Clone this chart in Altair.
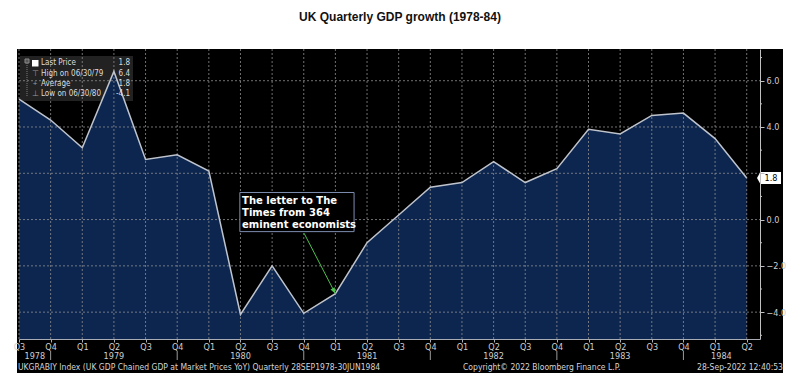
import altair as alt
import pandas as pd

# ---------------- data ----------------
quarter_labels = ["Q3", "Q4", "Q1", "Q2", "Q3", "Q4", "Q1", "Q2", "Q3", "Q4", "Q1", "Q2",
                  "Q3", "Q4", "Q1", "Q2", "Q3", "Q4", "Q1", "Q2", "Q3", "Q4", "Q1", "Q2"]
gdp_growth = [5.2, 4.3, 3.1, 6.4, 2.6, 2.8, 2.1, -4.1, -2.0, -4.05, -3.2, -1.0,
              0.2, 1.4, 1.6, 2.5, 1.6, 2.2, 3.9, 3.7, 4.5, 4.6, 3.5, 1.8]
year_labels = ["1978", "1979", "1980", "1981", "1982", "1983", "1984"]
year_anchor = [0.5, 3, 7, 11, 15, 19, 22.2]   # quarter index under which each year is written
y_major = [-4, -2, 0, 2, 4, 6]
y_minor = [-5, -3, -1, 1, 3, 5, 7]
legend_markers = ["", "\u22a4", "+", "\u22a5"]
legend_labels = ["Last Price", "High on 06/30/79", "Average", "Low on 06/30/80"]
legend_values = ["1.8", "6.4", "1.8", "-4.1"]
note_lines = ["The letter to The", "Times from 364", "eminent economists"]
note_target = 10          # Q1 1981
title_text = "UK Quarterly GDP growth (1978-84)"
footer_left = "UKGRABIY Index (UK GDP Chained GDP at Market Prices YoY)  Quarterly 28SEP1978-30JUN1984"
footer_mid = "Copyright\u00a9 2022 Bloomberg Finance L.P."
footer_right = "28-Sep-2022 12:40:53"

# ---------------- layout ----------------
W, H = 741, 290
XMAX = 23.42
YMIN, YMAX = -5.16, 7.37
xscale = alt.Scale(domain=[0, XMAX], nice=False, zero=False)
yscale = alt.Scale(domain=[YMIN, YMAX], nice=False, zero=False)
NARROW = "DejaVu Sans Condensed, Liberation Sans Narrow, sans-serif"
LBL = "#cfcfcf"

n = len(gdp_growth)
df = pd.DataFrame({"i": list(range(n)), "v": gdp_growth, "q": quarter_labels})
last_v = gdp_growth[-1]

label_expr = "[" + ",".join("'%s'" % q for q in quarter_labels) + "][datum.value]"
AX = alt.Axis(values=list(range(n)), labelExpr=label_expr, title=None,
              grid=False, tickSize=3, labelPadding=0, labelFontSize=9,
              labelFont=NARROW, labelColor=LBL, domainColor="#a8acb4",
              tickColor="#a8acb4", labelFlush=False, labelOverlap=False,
              labelBound=False, zindex=1)
# the 2.0 label sits under the last-price tag
AY = alt.Axis(orient="right", values=y_major, title=None,
              labelExpr="datum.value == %d ? '' : format(datum.value, '.1f')" % round(last_v),
              grid=False, tickSize=4, labelPadding=2, labelFontSize=9,
              labelFont=NARROW, labelColor=LBL, domainColor="#c0c0c0",
              tickColor="#c0c0c0", labelFlush=False, labelOverlap=False, zindex=1)


def one(**kw):
    return pd.DataFrame({k: [v] for k, v in kw.items()})


def X(f):
    return alt.X(f, scale=xscale, axis=AX)


def Y(f):
    return alt.Y(f, scale=yscale, axis=AY)


# black Bloomberg panel
panel = alt.Chart(one(a=0)).mark_rect(color="#000000").encode(
    x=alt.value(-2), x2=alt.value(764), y=alt.value(0), y2=alt.value(324))

# legend box (behind the series)
leg_box = alt.Chart(one(a=0)).mark_rect(color="#262626", opacity=0.9).encode(
    x=alt.value(1), x2=alt.value(114), y=alt.value(7), y2=alt.value(52))

# area (fills down to the bottom of the plot)
area = alt.Chart(df).mark_area(color="#0c2650").encode(
    x=X("i:Q"),
    y=alt.Y("v:Q", scale=yscale, stack=None, axis=AY),
    y2=alt.datum(YMIN),
)

# grid (dotted, drawn over the fill)
GRID = dict(color="#8c8c8c", opacity=0.8, strokeDash=[2, 2], strokeWidth=1)
vgrid = alt.Chart(df).mark_rule(**GRID).encode(
    x=X("i:Q"), y=alt.value(0), y2=alt.value(H))
hgrid = alt.Chart(pd.DataFrame({"g": y_major})).mark_rule(**GRID).encode(
    y=Y("g:Q"), x=alt.value(0), x2=alt.value(W))
minor = alt.Chart(pd.DataFrame({"g": y_minor})).mark_rule(color="#c0c0c0").encode(
    y=Y("g:Q"), x=alt.value(W), x2=alt.value(W + 2))

line = alt.Chart(df).mark_line(color="#bfc3cc", strokeWidth=1.5).encode(
    x=X("i:Q"), y=Y("v:Q"))

# year labels + separators under the quarters
ydf = pd.DataFrame({"yr": year_labels, "p": year_anchor})
years = alt.Chart(ydf).mark_text(fontSize=9, font=NARROW, color=LBL).encode(
    x=X("p:Q"), y=alt.value(H + 17), text="yr:N")
sep_df = df[df["q"] == "Q4"]
seps = alt.Chart(sep_df).mark_rule(color="#9a9a9a").encode(
    x=X("i:Q"), y=alt.value(H + 12), y2=alt.value(H + 21))

# footer
FOOT = dict(fontSize=8.5, font=NARROW, color="#d4d4d4")
f1 = alt.Chart(one(t=footer_left)).mark_text(align="left", **FOOT).encode(
    x=alt.value(-1), y=alt.value(H + 28), text="t:N")
f2 = alt.Chart(one(t=footer_mid)).mark_text(align="left", **FOOT).encode(
    x=alt.value(444), y=alt.value(H + 28), text="t:N")
f3 = alt.Chart(one(t=footer_right)).mark_text(align="right", **FOOT).encode(
    x=alt.value(764), y=alt.value(H + 28), text="t:N")

# title
title = alt.Chart(one(t=title_text)).mark_text(fontSize=12, fontWeight="bold", font="Liberation Sans, Arial, sans-serif",
                                               color="#111111").encode(
    x=alt.value(381), y=alt.value(-32), text="t:N")

# legend contents
ldf = pd.DataFrame({"m": legend_markers, "lab": legend_labels, "val": legend_values,
                    "r": list(range(len(legend_labels)))})
ldf["py"] = 14.3 + ldf["r"] * 10.2
leg_conn = alt.Chart(one(a=0)).mark_rule(color="#7a7a7a", strokeDash=[1, 1]).encode(
    x=alt.value(8), y=alt.value(12), y2=alt.value(48))
leg_sq = alt.Chart(one(a=0)).mark_rect(color="#ffffff").encode(
    x=alt.value(13), x2=alt.value(19.5), y=alt.value(11), y2=alt.value(17.5))
leg_small = alt.Chart(one(a=0)).mark_rect(color="#555555", stroke="#8a8a8a").encode(
    x=alt.value(6), x2=alt.value(10), y=alt.value(10), y2=alt.value(14))
leg_mark = alt.Chart(ldf).mark_text(fontSize=8, color="#9a9a9a").encode(
    x=alt.value(16), y=alt.Y("py:Q", scale=None), text="m:N")
LEGF = dict(fontSize=8, font=NARROW, color="#dcdcdc")
leg_lab = alt.Chart(ldf).mark_text(align="left", **LEGF).encode(
    x=alt.value(22), y=alt.Y("py:Q", scale=None), text="lab:N")
leg_val = alt.Chart(ldf).mark_text(align="right", **LEGF).encode(
    x=alt.value(111), y=alt.Y("py:Q", scale=None), text="val:N")

# annotation
note_box = alt.Chart(one(x0=6.98, x1=10.59, y0=1.17, y1=-0.52)).mark_rect(
    fill="#000000", stroke="#7d8db0", strokeWidth=1).encode(
    x=X("x0:Q"), x2="x1:Q", y=Y("y0:Q"), y2="y1:Q")
ndf = pd.DataFrame({"t": note_lines, "r": list(range(len(note_lines)))})
ndf["x"] = 7.05
ndf["y"] = 0.81 - 0.52 * ndf["r"]
note_txt = alt.Chart(ndf).mark_text(align="left", fontSize=10, fontWeight="bold",
                                    font="DejaVu Sans, Verdana, sans-serif", color="#ffffff").encode(
    x=X("x:Q"), y=Y("y:Q"), text="t:N")
tip_v = gdp_growth[note_target]
arrow = alt.Chart(one(x0=9.01, y0=-0.59, x1=note_target, y1=tip_v)).mark_rule(
    color="#4cbf4c", strokeWidth=1).encode(
    x=X("x0:Q"), x2="x1:Q", y=Y("y0:Q"), y2="y1:Q")
head = alt.Chart(one(x=note_target, y=tip_v)).mark_point(
    shape="M0,0 L-0.6,-1.5 L0.6,-1.5 Z", size=64, filled=True, opacity=1,
    color="#4cbf4c", angle=332).encode(x=X("x:Q"), y=Y("y:Q"))

# last price tag on the right axis
tag = alt.Chart(one(v=last_v)).mark_point(
    shape="M-1,0 L-0.72,-0.5 L1,-0.5 L1,0.5 L-0.72,0.5 Z", size=576, filled=True,
    opacity=1, color="#ffffff").encode(x=alt.value(W + 9), y=Y("v:Q"))
tag_txt = alt.Chart(one(v=last_v, t="%.1f" % last_v)).mark_text(
    fontSize=9, font=NARROW, color="#000000").encode(
    x=alt.value(W + 11), y=Y("v:Q"), text="t:N")

chart = alt.layer(
    panel, leg_box, area, vgrid, hgrid, minor, line, years, seps, f1, f2, f3, title,
    leg_conn, leg_small, leg_sq, leg_mark, leg_lab, leg_val,
    note_box, note_txt, arrow, head, tag, tag_txt,
).properties(
    width=W, height=H,
    padding={"left": 11, "top": 41, "right": 32, "bottom": 41},
    autosize=alt.AutoSizeParams(type="none"),
    background="#ffffff",
).configure_view(stroke=None)

chart.save("out.html", embed_options={"renderer": "svg", "actions": False})
